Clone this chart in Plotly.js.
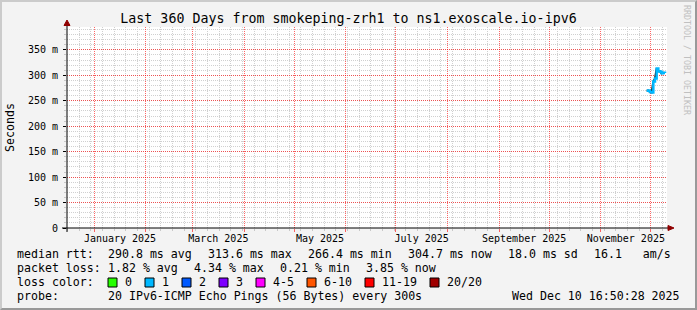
<!DOCTYPE html>
<html>
<head>
<meta charset="utf-8">
<script src="https://cdn.plot.ly/plotly-3.0.1.min.js"></script>
<style>
  html, body { margin: 0; padding: 0; background: #f3f3f3; }
  #wrap { position: relative; width: 697px; height: 310px; }
  #chart { width: 697px; height: 310px; }
  #frame { position: absolute; left: 0; top: 0; width: 697px; height: 310px; box-sizing: border-box;
           border-top: 2px solid #cbcbcb; border-left: 2px solid #cbcbcb;
           border-right: 2px solid #999999; border-bottom: 2px solid #999999; pointer-events: none; }
</style>
</head>
<body>
<div id="wrap"><div id="chart"></div><div id="frame"></div></div>
<script>
// ---- data ----
const dates = ['2025-11-28 12:00','2025-11-29 12:00','2025-11-30 12:00','2025-12-01 12:00','2025-12-02 12:00','2025-12-03 12:00',
               '2025-12-04 12:00','2025-12-05 12:00','2025-12-06 12:00','2025-12-07 12:00','2025-12-08 12:00','2025-12-09 12:00'];
const medianRtt = [0.2695, 0.2700, 0.2672, 0.2664, 0.2880, 0.2940, 0.3136, 0.3080, 0.3070, 0.3040, 0.3050, 0.3047];
const lossBin = [1,1,1,1,1,1,1,1,1,1,1,1];

const lossLabels = ['0','1','2','3','4-5','6-10','11-19','20/20'];
const lossColors = ['#26ff00','#00b8ff','#0059ff','#7e00ff','#ff00fe','#ff5500','#ff0000','#a00000'];

const yTickVals = [0, 0.05, 0.10, 0.15, 0.20, 0.25, 0.30, 0.35];
const yTickText = ['0','50 m','100 m','150 m','200 m','250 m','300 m','350 m'];

const monthLabelMonths = ['2025-01','2025-03','2025-05','2025-07','2025-09','2025-11'];
const monthLabelText = ['January 2025','March 2025','May 2025','July 2025','September 2025','November 2025'];

const rttStats = ['290.8 ms avg','313.6 ms max','266.4 ms min','304.7 ms now','18.0 ms sd','16.1   am/s'];
const lossStats = ['1.82 % avg','4.34 % max','0.21 % min','3.85 % now'];
const probeText = '20 IPv6-ICMP Echo Pings (56 Bytes) every 300s';
const stampText = 'Wed Dec 10 16:50:28 2025';
const titleText = 'Last 360 Days from smokeping-zrh1 to ns1.exoscale.io-ipv6';
const rangeStart = '2024-12-15 16:50:28';
const rangeEnd = '2025-12-10 16:50:28';
const yMax = 0.395;

// ---- layout helpers (pixel geometry) ----
const L = 67, R = 667, T = 27, B = 228, W = 697, H = 310;
const px = x => (x - L) / (R - L);
const py = y => (B - y) / (B - T);
const FONT = 'DejaVu Sans Mono';
const CW = 7; // legend char advance

function midMonth(ym) {
  const [y, m] = ym.split('-').map(Number);
  const a = Date.UTC(y, m - 1, 1), b = Date.UTC(y, m, 1);
  return new Date((a + b) / 2).toISOString().replace('T', ' ').slice(0, 19);
}

const traces = [
  { x: dates, y: medianRtt, type: 'scatter', mode: 'lines', line: { color: '#1a1a1a', width: 2 },
    hoverinfo: 'skip', showlegend: false },
  { x: dates, y: medianRtt, type: 'scatter', mode: 'lines', line: { color: lossColors[lossBin[0]], width: 2.5, shape: 'hv' },
    hoverinfo: 'skip', showlegend: false },
  { x: [rangeStart], y: [null], xaxis: 'x2', yaxis: 'y', type: 'scatter', mode: 'markers', showlegend: false, hoverinfo: 'skip' }
];

const annotations = [];
const shapes = [];
function txt(x, y, text, anchor, size, extra) {
  annotations.push(Object.assign({ xref: 'paper', yref: 'paper', x: px(x), y: py(y), text: text, showarrow: false,
    xanchor: anchor || 'left', yanchor: 'middle', borderpad: 0,
    font: { family: FONT, size: size || 11.6, color: '#000' } }, extra || {}));
}

// row 1
txt(16, 254, 'median rtt:');
let cx = 107;
rttStats.forEach(s => { txt(cx, 254, s); cx += s.length * CW + 16; });
// row 2
txt(16, 268, 'packet loss:');
cx = 107;
lossStats.forEach(s => { txt(cx, 268, s); cx += s.length * CW + 16; });
// row 3
txt(16, 282, 'loss color:');
cx = 108;
lossLabels.forEach((lab, i) => {
  shapes.push({ type: 'rect', xref: 'paper', yref: 'paper', x0: px(cx), x1: px(cx + 9), y0: py(278), y1: py(287),
    fillcolor: lossColors[i], line: { color: '#000', width: 1 }, layer: 'above' });
  txt(cx + 16, 282, lab);
  cx += 30 + lab.length * CW;
});
// row 4
txt(16, 296, 'probe:');
txt(107, 296, probeText);
txt(681, 296, stampText, 'right');
// watermark
annotations.push({ xref: 'paper', yref: 'paper', x: px(687), y: py(60), text: 'RRDTOOL / TOBI OETIKER', showarrow: false,
  textangle: 90, xanchor: 'center', yanchor: 'middle', font: { family: FONT, size: 8.3, color: '#c0c0c0' } });

// axis extensions + arrows
shapes.push({ type: 'line', xref: 'paper', yref: 'paper', x0: px(62), x1: px(669), y0: 0, y1: 0, line: { color: '#000', width: 1 }, layer: 'above' });
shapes.push({ type: 'line', xref: 'paper', yref: 'paper', x0: 0, x1: 0, y0: py(232), y1: py(24), line: { color: '#000', width: 1 }, layer: 'above' });
shapes.push({ type: 'path', xref: 'paper', yref: 'paper', fillcolor: '#900000', line: { color: '#900000', width: 1 }, layer: 'above',
  path: `M ${px(64)} ${py(25.5)} L ${px(67)} ${py(20)} L ${px(70)} ${py(25.5)} Z` });
shapes.push({ type: 'path', xref: 'paper', yref: 'paper', fillcolor: '#900000', line: { color: '#900000', width: 1 }, layer: 'above',
  path: `M ${px(668)} ${py(225.5)} L ${px(674)} ${py(228)} L ${px(668)} ${py(230.5)} Z` });

const layout = {
  width: W, height: H,
  margin: { l: L, r: W - R, t: T, b: H - B, pad: 0 },
  paper_bgcolor: '#f3f3f3', plot_bgcolor: '#ffffff',
  font: { family: FONT, size: 10, color: '#000' },
  title: { text: titleText, font: { family: FONT, size: 13.3, color: '#000' },
           x: 0.5, xref: 'container', xanchor: 'center', y: 1 - 18.5 / H, yref: 'container', yanchor: 'middle' },
  showlegend: false,
  xaxis: {
    type: 'date', range: [rangeStart, rangeEnd], fixedrange: true,
    tickmode: 'linear', tick0: '2025-01-01', dtick: 'M1', showticklabels: false,
    showgrid: true, gridcolor: 'rgba(255,0,0,0.6)', griddash: '1px,1px', gridwidth: 1,
    ticks: 'outside', ticklen: 3, tickcolor: 'rgba(255,0,0,0.6)', tickwidth: 1,
    showline: false, zeroline: false,
    minor: { tick0: '2025-01-06', dtick: 7 * 86400000, showgrid: true, gridcolor: '#d0d0d0', griddash: '1px,1px', gridwidth: 1,
             ticks: 'outside', ticklen: 2, tickcolor: '#c8c8c8' }
  },
  xaxis2: {
    type: 'date', overlaying: 'x', side: 'bottom', range: [rangeStart, rangeEnd], fixedrange: true,
    tickmode: 'array', tickvals: monthLabelMonths.map(midMonth), ticktext: monthLabelText,
    ticks: '', showgrid: false, zeroline: false, showline: false, ticklabelstandoff: 3,
    tickfont: { family: FONT, size: 10, color: '#000' }
  },
  yaxis: {
    range: [0, yMax], fixedrange: true,
    tickmode: 'array', tickvals: yTickVals, ticktext: yTickText,
    showgrid: true, gridcolor: 'rgba(255,0,0,0.6)', griddash: '1px,1px', gridwidth: 1,
    ticks: 'outside', ticklen: 3, tickcolor: '#000', tickwidth: 1,
    showline: false, zeroline: false, ticklabelstandoff: 3,
    tickfont: { family: FONT, size: 10, color: '#000' },
    title: { text: 'Seconds', font: { family: FONT, size: 11.6, color: '#000' }, standoff: 10 },
    minor: { dtick: 0.01, showgrid: true, gridcolor: '#d0d0d0', griddash: '1px,1px', gridwidth: 1,
             ticks: 'outside', ticklen: 2, tickcolor: '#c8c8c8' }
  },
  annotations: annotations,
  shapes: shapes
};

Plotly.newPlot('chart', traces, layout, { displayModeBar: false, staticPlot: true });
</script>
</body>
</html>
